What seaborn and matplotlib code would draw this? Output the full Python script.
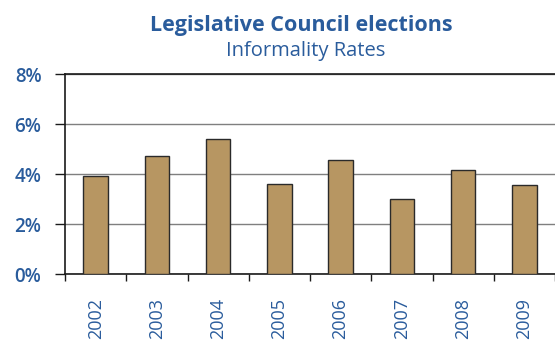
import numpy as np
import pandas as pd
import matplotlib
matplotlib.use('Agg')
import matplotlib.pyplot as plt
import seaborn as sns
from matplotlib.ticker import FuncFormatter, FixedLocator

# datos
years = ['2002', '2003', '2004', '2005', '2006', '2007', '2008', '2009']
rates = [3.93, 4.73, 5.41, 3.61, 4.56, 3.01, 4.18, 3.56]
yticks = [0, 2, 4, 6, 8]

blue = '#2a5c9c'
bar_color = '#b79662'

sns.set_style('white')
plt.rcParams['font.family'] = ['Open Sans', 'DejaVu Sans']

df = pd.DataFrame({'year': years, 'rate': rates})

fig = plt.figure(figsize=(5.55, 3.4), dpi=100)
ax = fig.add_axes([65/555, 1-274.3/340, 490/555, 200/340])

sns.barplot(data=df, x='year', y='rate', color=bar_color, width=0.4,
            edgecolor='#2a2a2a', linewidth=1, saturation=1, ax=ax, zorder=3)

ax.set_ylim(0, 8)
ax.set_xlim(-0.5, len(years) - 0.5)
ax.set_yticks(yticks)
ax.yaxis.set_major_formatter(FuncFormatter(lambda v, p: f'{v:.0f}%'))
ax.grid(axis='y', color='#7f7f7f', linewidth=1, zorder=0)
ax.grid(axis='x', visible=False)

for s in ['left', 'bottom', 'top']:
    ax.spines[s].set_visible(True)
    ax.spines[s].set_color('#1a1a1a')
    ax.spines[s].set_linewidth(1.2)
ax.spines['right'].set_visible(False)

ax.tick_params(axis='y', direction='out', length=7, width=1, color='#1a1a1a',
               labelsize=13.5, labelcolor=blue, pad=10, left=True)
for t in ax.get_yticklabels():
    t.set_fontweight('semibold')

ax.xaxis.set_minor_locator(FixedLocator(np.arange(-0.5, len(years), 1)))
ax.tick_params(axis='x', which='major', length=0, labelsize=13,
               labelcolor=blue, labelrotation=90, pad=17)
ax.tick_params(axis='x', which='minor', direction='out', length=5, width=1,
               color='#1a1a1a', bottom=True)
ax.set_xlabel('')
ax.set_ylabel('')

fig.text(301/555, 1-26/340, 'Legislative Council elections', ha='center',
         va='center', fontsize=15.5, fontweight='bold', color=blue)
fig.text(306/555, 1-51/340, 'Informality Rates', ha='center', va='center',
         fontsize=14.5, color=blue)

fig.savefig('out.png', dpi=100)
